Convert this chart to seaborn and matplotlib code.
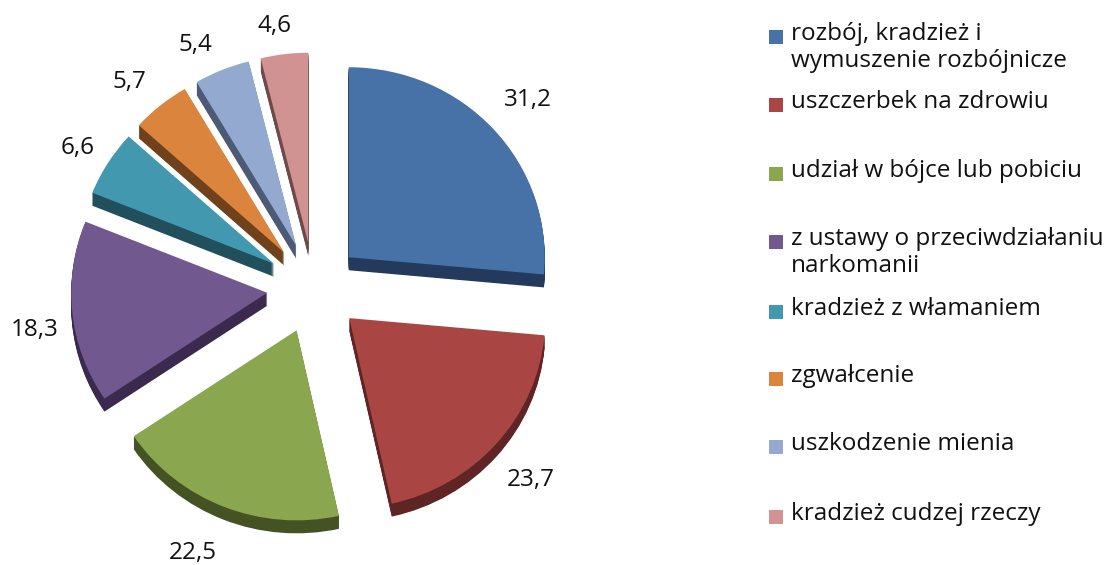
import matplotlib
matplotlib.use('Agg')
import matplotlib.pyplot as plt
import seaborn as sns
from matplotlib.patches import Rectangle

categories = ['rozbój, kradzież i\nwymuszenie rozbójnicze', 'uszczerbek na zdrowiu',
              'udział w bójce lub pobiciu', 'z ustawy o przeciwdziałaniu\nnarkomanii',
              'kradzież z włamaniem', 'zgwałcenie', 'uszkodzenie mienia', 'kradzież cudzej rzeczy']
values = [31.2, 23.7, 22.5, 18.3, 6.6, 5.7, 5.4, 4.6]
value_labels = ['31,2', '23,7', '22,5', '18,3', '6,6', '5,7', '5,4', '4,6']
top_colors = ['#4672A8', '#A94643', '#8AA64F', '#71588F', '#4198AF', '#DB843D', '#93A9CF', '#D19392']
side_colors = ['#233A5C', '#5E2524', '#445224', '#3B2A4E', '#214F5C', '#6F421B', '#4C5A75', '#6E4A4A']
# label and legend positions in pixels
label_xy = [(528, 100), (531, 480), (193, 553), (35, 330), (78, 148), (129, 82), (195, 45), (274, 26)]
legend_y = [37, 105, 174, 242, 312, 379, 447, 517]

sns.set_theme(style='white')
plt.rcParams['font.family'] = ['Open Sans', 'DejaVu Sans']

fig = plt.figure(figsize=(11.14, 5.65), dpi=100)
ax = fig.add_axes([0, 0, 1, 1])

# pie centre and radii in pixels, slightly squashed for the 3d look
cx, cy = 314, 288
rx, ry = 196, 190
depth = 13

explode = [0.24] * len(values)
flat = {'linewidth': 0}
for off in range(depth, 0, -1):
    ax.pie(values, colors=sns.color_palette(side_colors), explode=explode, startangle=90,
           counterclock=False, center=(0, -off / ry), radius=1, normalize=True, wedgeprops=flat)
ax.pie(values, colors=sns.color_palette(top_colors), explode=explode, startangle=90,
       counterclock=False, center=(0, 0), radius=1, normalize=True, wedgeprops=flat)
ax.set_aspect('auto')
ax.set_xlim(-cx / rx, (1114 - cx) / rx)
ax.set_ylim((cy - 565) / ry, cy / ry)
ax.axis('off')

# overlay in pixel coordinates for the text
over = fig.add_axes([0, 0, 1, 1])
over.set_xlim(0, 1114)
over.set_ylim(565, 0)
over.axis('off')
over.patch.set_alpha(0)

for lab, (x, y) in zip(value_labels, label_xy):
    over.text(x, y, lab, fontsize=17.5, color='#111111', ha='center', va='center')

for name, col, y in zip(categories, top_colors, legend_y):
    over.add_patch(Rectangle((769, y - 7), 14, 14, color=col, lw=0))
    over.text(791, y - 15, name, fontsize=17.5, color='#111111', ha='left', va='top', linespacing=1.14)

fig.savefig('out.png', dpi=100)
plt.close(fig)
